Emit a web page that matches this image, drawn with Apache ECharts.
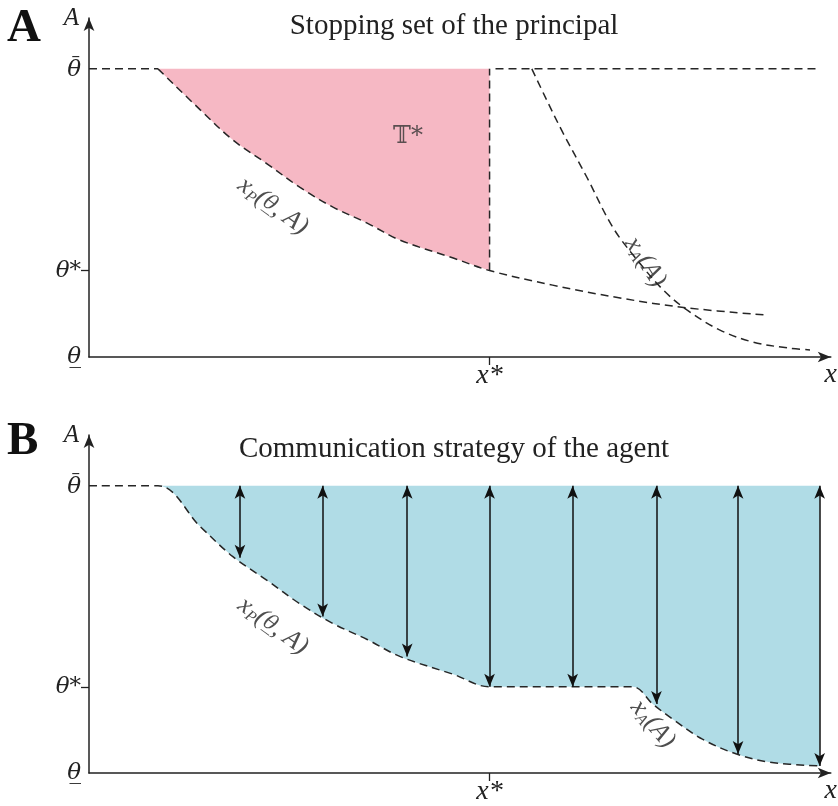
<!DOCTYPE html>
<html>
<head>
<meta charset="utf-8">
<script src="https://cdn.jsdelivr.net/npm/echarts@6/dist/echarts.min.js"></script>
<style>html,body{margin:0;padding:0;background:#fff}#c{width:838px;height:806px}</style>
</head>
<body>
<div id="c"></div>
<script>
// ---- data (axis units: x 0..100, A 0..10) ----
const thetaBar = 8.5;
const thetaStar = 2.55;
const xStar = 54;
const titles = ['Stopping set of the principal', 'Communication strategy of the agent'];
const panelLetters = ['A', 'B'];
const yTickLabels = ['{th|θ̲}', '{th|θ*}', '{bar|–}\n{th|θ}'];
const xTickLabel = 'x*';
// principal's curve x_P(θ, A)
const principalX = [9.3, 15.0, 19.4, 24.0, 28.4, 32.9, 37.5, 41.9, 49.1, 54.0, 62.5, 71.6, 80.6, 91.1];
const principalY = [8.5, 7.29, 6.40, 5.70, 5.01, 4.42, 3.95, 3.45, 2.92, 2.55, 2.12, 1.74, 1.45, 1.24];
// agent's curve x_A(A) (panel A)
const agentX = [59.7, 61.7, 63.9, 67.1, 70.6, 73.9, 77.4, 80.6, 85.0, 89.5, 94.1, 97.2];
const agentY = [8.5, 7.58, 6.61, 5.31, 3.83, 2.86, 1.98, 1.39, 0.80, 0.44, 0.27, 0.21];
// panel B lower boundary after the flat part
const bTailX = [73.3, 76.0, 78.7, 82.7, 87.3, 91.8, 98.5];
const bTailY = [2.55, 2.04, 1.59, 1.00, 0.56, 0.32, 0.21];
// panel B arrows
const arrowX = [20.35, 31.5, 42.9, 54.0, 65.2, 76.5, 87.5, 98.5];
const arrowBottom = [6.37, 4.63, 3.45, 2.55, 2.55, 2.04, 0.56, 0.21];

// ---- build ----
const zip = (xs, ys) => xs.map((x, i) => [x, ys[i]]);
const principal = zip(principalX, principalY);
const agent = zip(agentX, agentY);
const pinkFill = principal.filter(p => p[0] <= xStar + 1e-9);
const bCurve = [[0, thetaBar]].concat(pinkFill, zip(bTailX, bTailY));

const DASH = [8, 5];
const dashStyle = { color: '#262626', width: 1.5, type: DASH };
const serif = 'Liberation Serif';
const thetaFont = 'DejaVu Serif';
const mathLabel = { fontFamily: serif, fontStyle: 'italic', fontSize: 28, color: '#222' };
const SMOOTH = 0.35;

function axes(gi) {
  const xa = {
    type: 'value', gridIndex: gi, min: 0, max: 100,
    splitLine: { show: false },
    axisLine: { lineStyle: { color: '#222', width: 1.5 }, symbol: ['none', 'arrow'], symbolSize: [8, 13] },
    axisTick: { show: true, customValues: [xStar], length: 8, inside: false, lineStyle: { color: '#222', width: 1.3 } },
    axisLabel: { customValues: [xStar], formatter: () => xTickLabel, margin: 5, ...mathLabel },
    name: 'x', nameLocation: 'end', nameGap: 0,
    nameTextStyle: { ...mathLabel, align: 'center', verticalAlign: 'top', padding: [4, 0, 0, 0] }
  };
  const ya = {
    type: 'value', gridIndex: gi, min: 0, max: 10,
    splitLine: { show: false },
    axisLine: { lineStyle: { color: '#222', width: 1.5 }, symbol: ['none', 'arrow'], symbolSize: [8, 13] },
    axisTick: { show: true, customValues: [thetaStar], length: 8, lineStyle: { color: '#222', width: 1.3 } },
    axisLabel: {
      customValues: [0, thetaStar, thetaBar], margin: 8,
      formatter: v => (Math.abs(v) < 1e-6 ? yTickLabels[0] : Math.abs(v - thetaStar) < 1e-6 ? yTickLabels[1] : yTickLabels[2]),
      rich: {
        th: { fontFamily: thetaFont, fontStyle: 'italic', fontSize: 23, color: '#222', lineHeight: 24 },
        bar: { fontFamily: thetaFont, fontSize: 17, color: '#222', lineHeight: 2, padding: [0, 1, 0, 0] }
      }
    },
    name: 'A', nameLocation: 'end', nameGap: 0,
    nameTextStyle: { ...mathLabel, fontSize: 25, align: 'right', verticalAlign: 'middle', padding: [0, 10, 4, 0] }
  };
  return [xa, ya];
}
const [xa0, ya0] = axes(0);
const [xa1, ya1] = axes(1);

const noSym = { symbol: 'none', showSymbol: false, silent: true, animation: false };
const labelRich = {
  m: { fontFamily: serif, fontStyle: 'italic', fontSize: 26, color: '#222', lineHeight: 28 },
  t: { fontFamily: thetaFont, fontStyle: 'italic', fontSize: 21, color: '#222', lineHeight: 28 },
  s: { fontFamily: serif, fontStyle: 'italic', fontSize: 16, color: '#222', lineHeight: 28, verticalAlign: 'bottom', padding: [12, 0, 0, 0] }
};
function annot(gi, x, y, text, rotate, extra) {
  return {
    type: 'scatter', xAxisIndex: gi, yAxisIndex: gi, symbolSize: 0, silent: true, animation: false, clip: false,
    data: [[x, y]],
    label: Object.assign({ show: true, position: 'inside', formatter: text, rotate: rotate, rich: labelRich }, extra || {})
  };
}
const xpText = '{m|x}{s|P}{m|(}{t|θ̲}{m|, A)}';
const xaText = '{m|x}{s|A}{m|(A)}';

const series = [
  // ---- panel A ----
  { type: 'line', xAxisIndex: 0, yAxisIndex: 0, data: pinkFill, ...noSym, smooth: SMOOTH,
    lineStyle: { opacity: 0 }, areaStyle: { color: '#f6b8c4', opacity: 1, origin: thetaBar }, z: 1 },
  { type: 'line', xAxisIndex: 0, yAxisIndex: 0, data: principal, ...noSym, smooth: SMOOTH, lineStyle: dashStyle, z: 3 },
  { type: 'line', xAxisIndex: 0, yAxisIndex: 0, data: agent, ...noSym, smooth: SMOOTH, lineStyle: dashStyle, z: 3 },
  { type: 'line', xAxisIndex: 0, yAxisIndex: 0, data: [[0, thetaBar], [principalX[0], thetaBar]], ...noSym, lineStyle: dashStyle, z: 3 },
  { type: 'line', xAxisIndex: 0, yAxisIndex: 0, data: [[xStar + 0.8, thetaBar], [98.5, thetaBar]], ...noSym, lineStyle: dashStyle, z: 3 },
  { type: 'line', xAxisIndex: 0, yAxisIndex: 0, data: [[xStar, thetaStar], [xStar, thetaBar]], ...noSym, lineStyle: dashStyle, z: 3 },
  annot(0, 43.0, 6.5, '𝕋*', 0, { fontFamily: 'DejaVu Serif', fontSize: 24, color: '#333' }),
  annot(0, 24.8, 4.45, xpText, -36),
  annot(0, 75.0, 2.8, xaText, -57),
  // ---- panel B ----
  { type: 'line', xAxisIndex: 1, yAxisIndex: 1, data: bCurve, ...noSym, smooth: SMOOTH,
    lineStyle: dashStyle, areaStyle: { color: '#b0dce6', opacity: 1, origin: thetaBar }, z: 2,
    markLine: {
      silent: true, animation: false, symbol: ['arrow', 'arrow'], symbolSize: [8, 13],
      label: { show: false },
      lineStyle: { color: '#111', width: 1.5, type: 'solid' },
      data: arrowX.map((x, i) => [{ coord: [x, thetaBar] }, { coord: [x, arrowBottom[i]] }])
    } },
  annot(1, 24.8, 4.35, xpText, -36),
  annot(1, 76.0, 1.45, xaText, -50)
];

const chart = echarts.init(document.getElementById('c'), null, { renderer: 'canvas' });
const titleStyle = { fontFamily: serif, fontWeight: 'normal', fontSize: 29, color: '#222' };
chart.setOption({
  animation: false,
  backgroundColor: '#fff',
  title: [
    { text: titles[0], left: 449, top: 7, textAlign: 'center', textStyle: titleStyle },
    { text: titles[1], left: 449, top: 430, textAlign: 'center', textStyle: titleStyle }
  ],
  graphic: [
    { type: 'text', left: 7, top: 5, style: { text: panelLetters[0], font: 'bold 47px "Liberation Serif"', fill: '#111' } },
    { type: 'text', left: 7, top: 418, style: { text: panelLetters[1], font: 'bold 47px "Liberation Serif"', fill: '#111' } }
  ],
  grid: [
    { left: 89, top: 18, width: 742, height: 339 },
    { left: 89, top: 435, width: 742, height: 339 }
  ],
  xAxis: [xa0, xa1],
  yAxis: [ya0, ya1],
  series: series
});
</script>
</body>
</html>
